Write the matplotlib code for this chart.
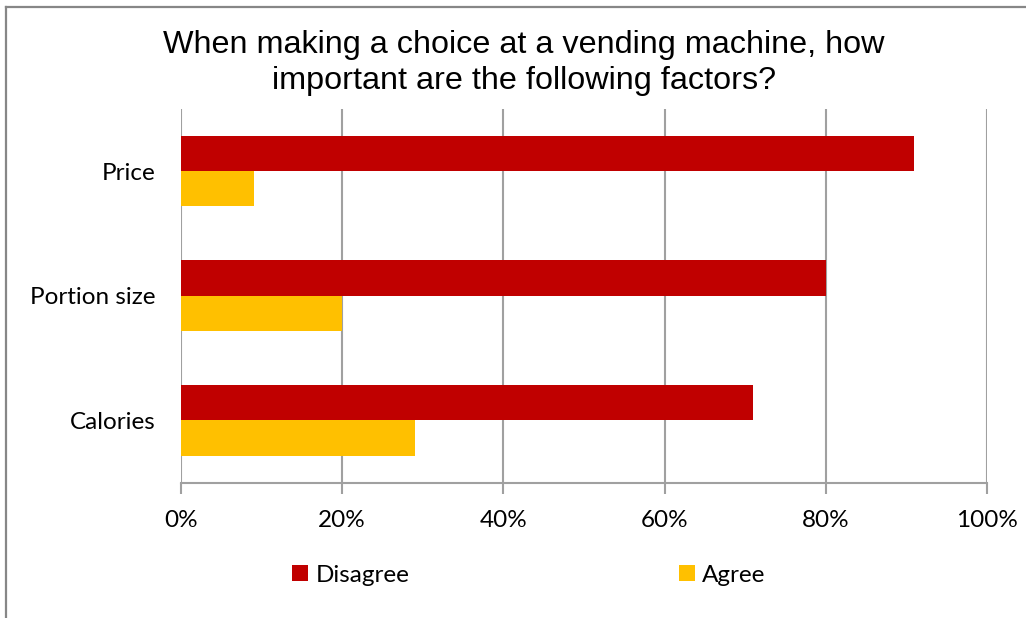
import matplotlib
matplotlib.use("Agg")
import matplotlib.pyplot as plt
from matplotlib.lines import Line2D
from matplotlib.patches import Patch
import numpy as np

categories = ["Calories", "Portion size", "Price"]
disagree = [0.71, 0.80, 0.91]
agree = [0.29, 0.20, 0.09]
xticks = [0, 0.2, 0.4, 0.6, 0.8, 1.0]
xticklabels = ["0%", "20%", "40%", "60%", "80%", "100%"]
title = "When making a choice at a vending machine, how\nimportant are the following factors?"

RED = "#C00000"
YEL = "#FFC000"
GRID = "#A0A0A0"

fig = plt.figure(figsize=(10.26, 6.18), dpi=100)
ax = fig.add_axes([181/1026, 1-482.5/618, (987-181)/1026, (482.5-108.7)/618])

y = np.arange(len(categories))
h = 0.284
ax.barh(y + h/2, disagree, height=h, color=RED, zorder=3)
ax.barh(y - h/2, agree, height=h, color=YEL, zorder=3)

ax.set_xlim(0, 1.0)
ax.set_ylim(-0.5, 2.5)
ax.set_xticks(xticks)
ax.set_xticklabels(xticklabels, fontsize=17.5, family="Lato")
ax.set_yticks(y)
ax.set_yticklabels(categories, fontsize=17.5, family="Lato")
ax.tick_params(axis="y", length=0, pad=18)
ax.tick_params(axis="x", length=8, width=1.5, color=GRID, pad=12)
ax.xaxis.grid(True, color=GRID, linewidth=1.5, zorder=0)
for s in ["top", "right", "left"]:
    ax.spines[s].set_visible(False)
ax.spines["bottom"].set_color(GRID)
ax.spines["bottom"].set_linewidth(1.5)
ax.spines["bottom"].set_zorder(4)

fig.text(524/1026, 1-63/618, title, ha="center", va="center", fontsize=23.3,
         family="Liberation Sans", linespacing=1.25)

handles = [Patch(facecolor=RED), Patch(facecolor=YEL)]
fig.legend(handles, ["Disagree", "Agree"], ncol=2, loc="center",
           bbox_to_anchor=(529/1026, 1-575/618), frameon=False,
           prop={"family": "Lato", "size": 17.5}, handlelength=0.65, handleheight=0.65,
           handletextpad=0.3, columnspacing=11.1)

fig.add_artist(Line2D([5.5/1026, 5.5/1026], [0, 1-6.5/618], transform=fig.transFigure,
                      color="#878787", linewidth=1.6))
fig.add_artist(Line2D([5.5/1026, 1], [1-6.5/618, 1-6.5/618], transform=fig.transFigure,
                      color="#878787", linewidth=1.6))

fig.savefig("out.png", dpi=100)
